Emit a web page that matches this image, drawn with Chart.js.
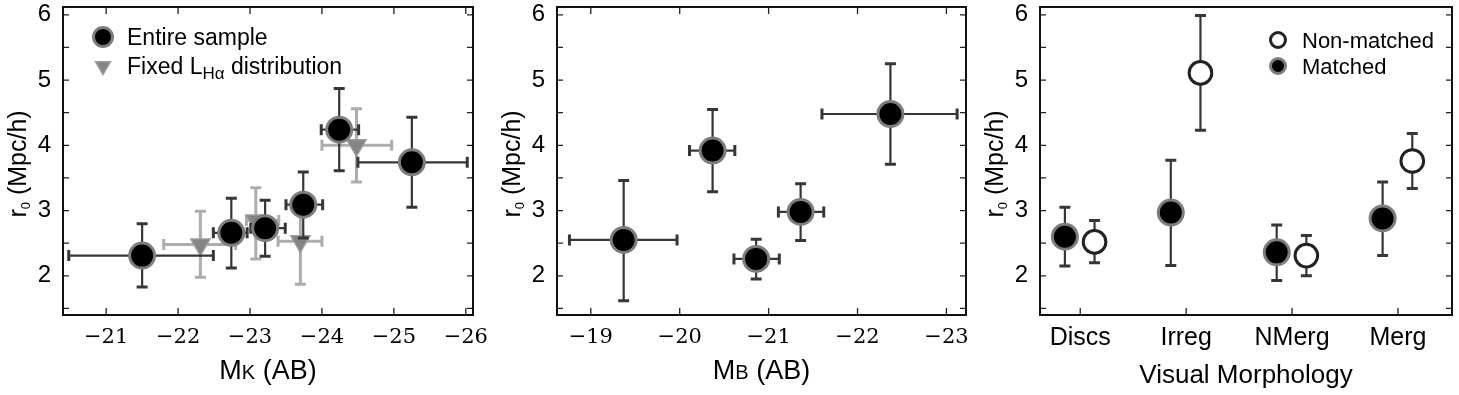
<!DOCTYPE html>
<html>
<head>
<meta charset="utf-8">
<script src="https://cdn.jsdelivr.net/npm/chart.js@4.4.0/dist/chart.umd.min.js"></script>
<style>
  html, body { margin: 0; padding: 0; background: #fff; }
  canvas { position: absolute; top: 0; }
</style>
</head>
<body>
<canvas id="pK" width="487" height="395" style="left:0"></canvas>
<canvas id="pB" width="487" height="395" style="left:487px"></canvas>
<canvas id="pM" width="485" height="395" style="left:974px"></canvas>
<script>
const sans = "'Liberation Sans', Arial, sans-serif";
const serif = "'DejaVu Serif', 'Liberation Serif', serif";

// shared y axis
const yTicks = [2, 3, 4, 5, 6];
const yMarks = [1.5, 2, 2.5, 3, 3.5, 4, 4.5, 5, 5.5, 6];

// ---- left panel: r0 vs M_K ----
const mkTicks = [-21, -22, -23, -24, -25, -26];
const entireMK   = [-21.50, -22.74, -23.21, -23.74, -24.24, -25.25];
const entireMKlo = [-20.48, -22.49, -23.01, -23.50, -23.99, -24.50];
const entireMKhi = [-22.49, -22.96, -23.49, -24.01, -24.51, -26.02];
const entireR0   = [2.31, 2.66, 2.73, 3.09, 4.24, 3.74];
const entireR0lo = [1.83, 2.12, 2.30, 2.58, 3.61, 3.05];
const entireR0hi = [2.80, 3.19, 3.16, 3.59, 4.87, 4.43];

const fixedMK   = [-22.31, -23.08, -23.70, -24.48];
const fixedMKlo = [-21.80, -22.95, -23.39, -24.00];
const fixedMKhi = [-22.80, -23.40, -24.00, -24.97];
const fixedR0   = [2.48, 2.85, 2.53, 4.00];
const fixedR0lo = [1.98, 2.26, 1.87, 3.44];
const fixedR0hi = [2.99, 3.35, 3.20, 4.56];

// ---- middle panel: r0 vs M_B ----
const mbTicks = [-19, -20, -21, -22, -23];
const sampleMB   = [-19.37, -20.37, -20.86, -21.36, -22.37];
const sampleMBlo = [-18.76, -20.11, -20.61, -21.11, -21.60];
const sampleMBhi = [-19.97, -20.62, -21.12, -21.62, -23.12];
const sampleR0   = [2.55, 3.92, 2.26, 2.98, 4.48];
const sampleR0lo = [1.62, 3.29, 1.95, 2.54, 3.71];
const sampleR0hi = [3.46, 4.55, 2.56, 3.41, 5.25];

// ---- right panel: r0 vs visual morphology ----
const morphCats = ['Discs', 'Irreg', 'NMerg', 'Merg'];
const matchedR0   = [2.60, 2.97, 2.36, 2.88];
const matchedR0lo = [2.15, 2.16, 1.93, 2.31];
const matchedR0hi = [3.05, 3.77, 2.78, 3.44];
const nonR0   = [2.52, 5.11, 2.31, 3.76];
const nonR0lo = [2.20, 4.23, 2.00, 3.34];
const nonR0hi = [2.85, 5.99, 2.62, 4.18];

const matchedShift = -0.145;
const nonShift = 0.135;

const pts = (xs, ys) => xs.map((x, i) => ({ x: x, y: ys[i] }));

const bigDot = {
    pointRadius: 12.5, pointBackgroundColor: '#000', pointBorderColor: '#7d7d7d', pointBorderWidth: 3
};

function drawParts(ctx, parts, cx, base) {
    let w = 0;
    parts.forEach(p => { ctx.font = p.s + 'px ' + sans; w += ctx.measureText(p.t).width; });
    let x = cx - w / 2;
    ctx.textAlign = 'left';
    ctx.textBaseline = 'alphabetic';
    ctx.fillStyle = '#000';
    parts.forEach(p => {
        ctx.font = p.s + 'px ' + sans;
        ctx.fillText(p.t, x, base + (p.dy || 0));
        x += ctx.measureText(p.t).width;
    });
}

function drawErrors(chart, meta, e) {
    const { ctx, scales: { x, y } } = chart;
    const cap = 5.5;
    ctx.save();
    ctx.strokeStyle = e.color;
    meta.data.forEach((pt, i) => {
        const px = pt.x, py = pt.y;
        ctx.lineWidth = e.width;
        ctx.beginPath();
        const t = y.getPixelForValue(e.yhi[i]), b = y.getPixelForValue(e.ylo[i]);
        ctx.moveTo(px, t); ctx.lineTo(px, b);
        let l, r;
        if (e.xlo) {
            l = x.getPixelForValue(e.xlo[i]); r = x.getPixelForValue(e.xhi[i]);
            ctx.moveTo(l, py); ctx.lineTo(r, py);
        }
        ctx.stroke();
        ctx.lineWidth = 3;
        ctx.beginPath();
        ctx.moveTo(px - cap, t); ctx.lineTo(px + cap, t);
        ctx.moveTo(px - cap, b); ctx.lineTo(px + cap, b);
        if (e.xlo) {
            ctx.moveTo(l, py - cap); ctx.lineTo(l, py + cap);
            ctx.moveTo(r, py - cap); ctx.lineTo(r, py + cap);
        }
        ctx.stroke();
    });
    ctx.restore();
}

function decor(c) {
    return {
        id: 'decor',
        beforeDatasetDraw(chart, args) {
            const ds = chart.data.datasets[args.index];
            if (ds.err) drawErrors(chart, args.meta, ds.err);
        },
        afterDraw(chart) {
            const { ctx, chartArea: a, scales: { x, y } } = chart;
            ctx.save();
            // inward tick marks
            ctx.strokeStyle = '#222';
            ctx.lineWidth = 1.3;
            ctx.beginPath();
            yMarks.forEach(v => {
                const p = y.getPixelForValue(v);
                ctx.moveTo(a.left, p); ctx.lineTo(a.left + 6, p);
                ctx.moveTo(a.right, p); ctx.lineTo(a.right - 6, p);
            });
            c.xTicks.forEach(v => {
                const p = x.getPixelForValue(v);
                ctx.moveTo(p, a.bottom); ctx.lineTo(p, a.bottom - 7);
                if (c.topMarks) { ctx.moveTo(p, a.top); ctx.lineTo(p, a.top + 7); }
            });
            ctx.stroke();
            // frame
            ctx.lineWidth = 2;
            ctx.strokeStyle = '#111';
            ctx.strokeRect(a.left, a.top, a.right - a.left, a.bottom - a.top);
            // x title
            drawParts(ctx, c.xTitle, (a.left + a.right) / 2, a.bottom + c.xTitleDy);
            // legend
            c.key.forEach((k, i) => {
                const mx = a.left + c.keyX, my = a.top + c.keyY + i * c.keyGap;
                ctx.fillStyle = k.fill;
                ctx.strokeStyle = k.stroke;
                ctx.lineWidth = k.bw;
                Chart.helpers.drawPoint(ctx, { pointStyle: k.style, radius: k.r, rotation: k.rot || 0, borderWidth: k.bw }, mx, my);
                let tx = a.left + c.keyText;
                ctx.fillStyle = '#000';
                ctx.textBaseline = 'alphabetic';
                ctx.textAlign = 'left';
                k.parts.forEach(p => {
                    ctx.font = p.s + 'px ' + sans;
                    ctx.fillText(p.t, tx, my + 8 + (p.dy || 0));
                    tx += ctx.measureText(p.t).width;
                });
            });
            // y title, rotated
            ctx.translate(a.left - 46, (a.top + a.bottom) / 2 + 3);
            ctx.rotate(-Math.PI / 2);
            drawParts(ctx, [{ t: 'r', s: 25 }, { t: '0', s: 13, dy: 4 }, { t: ' (Mpc/h)', s: 25 }], 0, 9);
            ctx.restore();
        }
    };
}

function panel(id, c) {
    return new Chart(document.getElementById(id), {
        type: 'scatter',
        data: { datasets: c.datasets },
        options: {
            responsive: false,
            animation: false,
            devicePixelRatio: 1,
            layout: { autoPadding: false, padding: { left: 0, top: 7, right: c.padRight, bottom: 0 } },
            plugins: { legend: { display: false }, tooltip: { enabled: false } },
            scales: {
                x: {
                    type: 'linear', min: c.xMin, max: c.xMax, reverse: c.reverse,
                    grid: { display: false, drawTicks: false },
                    border: { display: false },
                    ticks: { color: '#000', font: c.xFont, padding: c.xPad, maxRotation: 0, autoSkip: false, callback: c.xLabel },
                    afterBuildTicks: s => { s.ticks = c.xTicks.map(v => ({ value: v })); },
                    afterFit: s => { s.height = 80; s.paddingLeft = 0; s.paddingRight = 0; }
                },
                y: {
                    type: 'linear', min: 1.4, max: 6.12,
                    grid: { display: false, drawTicks: false },
                    border: { display: false },
                    ticks: { color: '#000', font: { family: sans, size: 24 }, padding: 12 },
                    afterBuildTicks: s => { s.ticks = yTicks.map(v => ({ value: v })); },
                    afterFit: s => { s.width = c.yWidth; s.paddingTop = 0; s.paddingBottom = 0; }
                }
            }
        },
        plugins: [decor(c)]
    });
}

const minusLabel = v => '\u2212' + Math.abs(v);

panel('pK', {
    xMin: -26.1, xMax: -20.4, reverse: true, xTicks: mkTicks, xLabel: minusLabel,
    xFont: { family: serif, size: 21 }, xPad: 10, yWidth: 63, padRight: 14, topMarks: true,
    xTitle: [{ t: 'M', s: 27 }, { t: 'K', s: 20 }, { t: ' (AB)', s: 27 }], xTitleDy: 64,
    keyX: 40, keyY: 30, keyGap: 29, keyText: 64,
    key: [
        { style: 'circle', r: 9.5, fill: '#000', stroke: '#7d7d7d', bw: 3, parts: [{ t: 'Entire sample', s: 23 }] },
        { style: 'triangle', r: 8.5, rot: 180, fill: '#858585', stroke: '#9a9a9a', bw: 1.5,
          parts: [{ t: 'Fixed L', s: 23 }, { t: 'H\u03b1', s: 17, dy: 5 }, { t: ' distribution', s: 23 }] }
    ],
    datasets: [
        Object.assign({ label: 'Entire sample', data: pts(entireMK, entireR0),
            err: { xlo: entireMKlo, xhi: entireMKhi, ylo: entireR0lo, yhi: entireR0hi, color: '#363636', width: 2.2 } }, bigDot),
        { label: 'Fixed LHa distribution', data: pts(fixedMK, fixedR0),
          pointStyle: 'triangle', pointRotation: 180, pointRadius: 11,
          pointBackgroundColor: '#858585', pointBorderColor: '#9a9a9a', pointBorderWidth: 1.5,
          err: { xlo: fixedMKlo, xhi: fixedMKhi, ylo: fixedR0lo, yhi: fixedR0hi, color: '#adadad', width: 3 } }
    ]
});

panel('pB', {
    xMin: -23.22, xMax: -18.62, reverse: true, xTicks: mbTicks, xLabel: minusLabel,
    xFont: { family: serif, size: 21 }, xPad: 10, yWidth: 70, padRight: 8, topMarks: true,
    xTitle: [{ t: 'M', s: 27 }, { t: 'B', s: 20 }, { t: ' (AB)', s: 27 }], xTitleDy: 64,
    keyX: 0, keyY: 0, keyGap: 0, keyText: 0, key: [],
    datasets: [
        Object.assign({ label: 'Entire sample', data: pts(sampleMB, sampleR0),
            err: { xlo: sampleMBlo, xhi: sampleMBhi, ylo: sampleR0lo, yhi: sampleR0hi, color: '#363636', width: 2.2 } }, bigDot)
    ]
});

panel('pM', {
    xMin: 0.62, xMax: 4.51, reverse: false, xTicks: [1, 2, 3, 4], xLabel: (v, i) => morphCats[i],
    xFont: { family: sans, size: 25 }, xPad: 8, yWidth: 66, padRight: 7, topMarks: false,
    xTitle: [{ t: 'Visual Morphology', s: 26 }], xTitleDy: 68,
    keyX: 238, keyY: 33, keyGap: 26, keyText: 262,
    key: [
        { style: 'circle', r: 7.5, fill: '#fff', stroke: '#222', bw: 3, parts: [{ t: 'Non-matched', s: 22 }] },
        { style: 'circle', r: 7.5, fill: '#000', stroke: '#7d7d7d', bw: 3, parts: [{ t: 'Matched', s: 22 }] }
    ],
    datasets: [
        Object.assign({ label: 'Matched', data: pts(morphCats.map((_, i) => i + 1 + matchedShift), matchedR0),
            err: { ylo: matchedR0lo, yhi: matchedR0hi, color: '#363636', width: 2.2 } }, bigDot),
        { label: 'Non-matched', data: pts(morphCats.map((_, i) => i + 1 + nonShift), nonR0),
          pointRadius: 11.3, pointBackgroundColor: '#fff', pointBorderColor: '#222', pointBorderWidth: 3,
          err: { ylo: nonR0lo, yhi: nonR0hi, color: '#363636', width: 2.2 } }
    ]
});
</script>
</body>
</html>
